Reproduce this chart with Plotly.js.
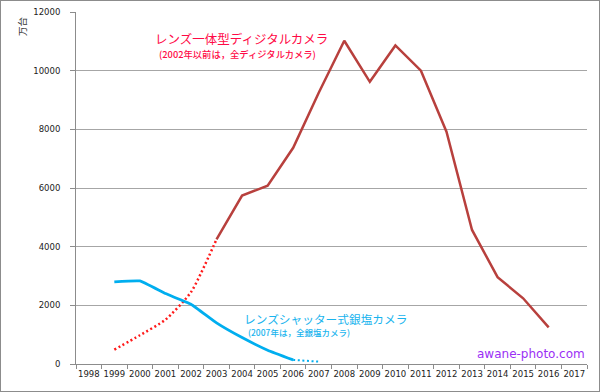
<!DOCTYPE html>
<html>
<head>
<meta charset="utf-8">
<script src="https://cdn.plot.ly/plotly-3.0.1.min.js"></script>
<style>
html,body{margin:0;padding:0;background:#fff;}
#wrap{position:relative;width:600px;height:392px;}
#chart{width:600px;height:392px;}
#frame{position:absolute;left:0;top:0;width:600px;height:392px;box-sizing:border-box;border:1px solid #8c8c8c;pointer-events:none;}
</style>
</head>
<body>
<div id="wrap"><div id="chart"></div><div id="frame"></div></div>
<script>
// Categories
var years = ['1998','1999','2000','2001','2002','2003','2004','2005','2006','2007','2008','2009','2010','2011','2012','2013','2014','2015','2016','2017'];

// Lens-integrated digital cameras (万台)
var digitalYears = ['2003','2004','2005','2006','2007','2008','2009','2010','2011','2012','2013','2014','2015','2016'];
var digitalValues = [4250, 5740, 6080, 7370, 9250, 11020, 9620, 10860, 10000, 7920, 4570, 2960, 2240, 1250];

// Before 2002: all digital cameras (dotted)
var allDigitalYears = ['1999','2000','2001','2002','2003'];
var allDigitalValues = [490, 980, 1510, 2450, 4250];

// Lens-shutter film cameras
var filmYears = ['1999','2000','2001','2002','2003','2004','2005','2006'];
var filmValues = [2800, 2830, 2400, 2040, 1400, 900, 470, 140];

// 2007: all film cameras (dotted)
var allFilmYears = ['2006','2007'];
var allFilmValues = [140, 80];

var yTicks = [0, 2000, 4000, 6000, 8000, 10000, 12000];

var traces = [
  {x: allDigitalYears, y: allDigitalValues, type: 'scatter', mode: 'lines',
   line: {color: '#ff1a1a', width: 2.5, dash: '2px,2.6px', shape: 'spline', smoothing: 0.6}, hoverinfo: 'skip'},
  {x: digitalYears, y: digitalValues, type: 'scatter', mode: 'lines',
   line: {color: '#b8403d', width: 2.5}, hoverinfo: 'skip'},
  {x: filmYears, y: filmValues, type: 'scatter', mode: 'lines',
   line: {color: '#00aeef', width: 2.8, shape: 'spline', smoothing: 0.3}, hoverinfo: 'skip'},
  {x: allFilmYears, y: allFilmValues, type: 'scatter', mode: 'lines',
   line: {color: '#00aeef', width: 2, dash: '2px,2.6px'}, hoverinfo: 'skip'}
];

var tickFont = {family: 'DejaVu Sans, Verdana, sans-serif', size: 8.5, color: '#222'};
var cjk = 'Noto Sans CJK JP, sans-serif';

var layout = {
  width: 600, height: 392,
  margin: {l: 76, r: 13, t: 12, b: 28, pad: 0},
  paper_bgcolor: '#ffffff', plot_bgcolor: '#ffffff',
  showlegend: false,
  xaxis: {
    type: 'category', categoryorder: 'array', categoryarray: years,
    tickvals: years, ticktext: years,
    range: [-0.5, 19.5], tickson: 'boundaries',
    showgrid: false, zeroline: false,
    showline: true, linecolor: '#8c8c8c', linewidth: 1,
    ticks: 'outside', ticklen: 4, tickcolor: '#8c8c8c', tickwidth: 1,
    tickfont: tickFont, tickangle: 0, ticklabelstandoff: 2, fixedrange: true
  },
  yaxis: {
    range: [0, 12000], tickvals: yTicks, ticktext: yTicks.map(String),
    showgrid: true, gridcolor: '#a6a6a6', gridwidth: 1,
    zeroline: false, showline: true, linecolor: '#8c8c8c', linewidth: 1,
    ticks: 'outside', ticklen: 5, tickcolor: '#8c8c8c',
    tickfont: tickFont, ticklabelstandoff: 8, fixedrange: true
  },
  annotations: [
    {xref: 'paper', yref: 'paper', x: (241-76)/511, y: (364-38)/352, xanchor: 'center', yanchor: 'middle', borderpad: 0,
     text: 'レンズ一体型ディジタルカメラ', showarrow: false, font: {family: cjk, size: 12.5, color: '#ff0a46'}},
    {xref: 'paper', yref: 'paper', x: (158-76)/511, y: (364-54)/352, xanchor: 'left', yanchor: 'middle', borderpad: 0,
     text: '(2002年以前は，全ディジタルカメラ)', showarrow: false, font: {family: cjk, size: 9.3, color: '#ff0a46', weight: 500}},
    {xref: 'paper', yref: 'paper', x: (243-76)/511, y: (364-318)/352, xanchor: 'left', yanchor: 'middle', borderpad: 0,
     text: 'レンズシャッター式銀塩カメラ', showarrow: false, font: {family: cjk, size: 11.7, color: '#19b4ee'}},
    {xref: 'paper', yref: 'paper', x: (247-76)/511, y: (364-332)/352, xanchor: 'left', yanchor: 'middle', borderpad: 0,
     text: '(2007年は，全銀塩カメラ)', showarrow: false, font: {family: cjk, size: 8.5, color: '#19b4ee', weight: 500}},
    {xref: 'paper', yref: 'paper', x: (587-76)/511, y: (364-354)/352, xanchor: 'right', yanchor: 'middle',
     text: 'awane-photo.com', showarrow: false, font: {family: 'DejaVu Sans, sans-serif', size: 12, color: '#9b2ff5'}},
    {xref: 'paper', yref: 'paper', x: (22-76)/511, y: (364-26)/352, xanchor: 'center', yanchor: 'middle',
     text: '万台', textangle: -90, showarrow: false, font: {family: cjk, size: 9.5, color: '#333'}}
  ]
};

Plotly.newPlot('chart', traces, layout, {staticPlot: true, displayModeBar: false});
</script>
</body>
</html>
